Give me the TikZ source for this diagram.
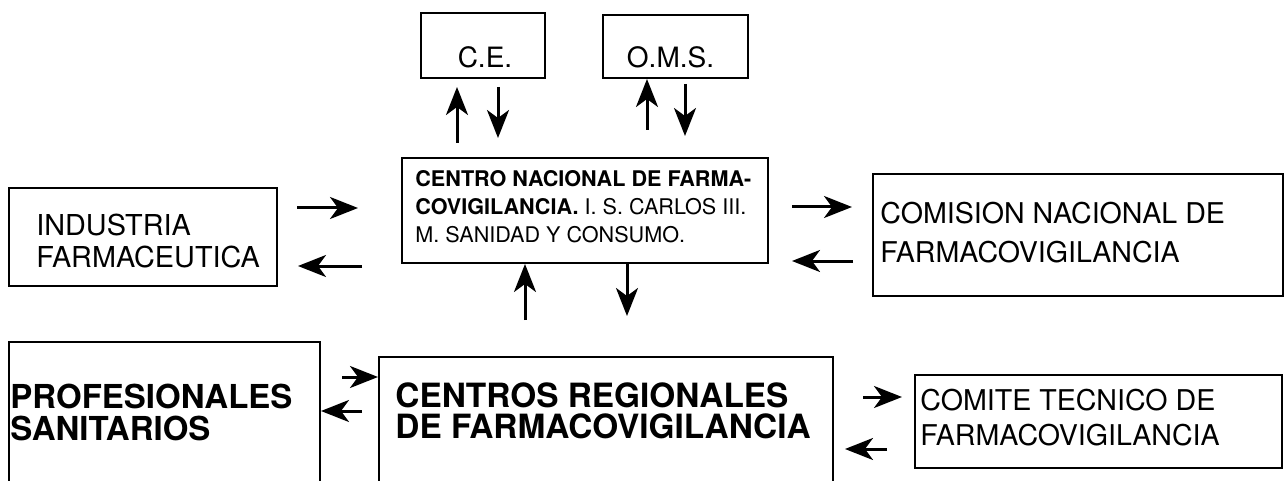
\documentclass[tikz,border=0pt]{standalone}
\usepackage{fontspec}
\setmainfont{TeX Gyre Heros}
\usetikzlibrary{arrows.meta}

\tikzset{
    box/.style={draw, line width=1pt, inner sep=0pt},
    txt/.style={inner sep=0pt, align=left},
    arr/.style={line width=1.5pt, -{Stealth[length=14pt, width=11pt, inset=4pt]}}
}

\begin{document}
\begin{tikzpicture}[x=0.5pt, y=-0.5pt]

        \clip (0, 0) rectangle (1286, 481);

        % boxes
        \node[box, minimum width=62pt, minimum height=32.5pt] (ce) at (483, 45.5) {};
        \node[box, minimum width=72.5pt, minimum height=31.5pt] (oms) at (675.5, 46.5) {};
        \node[box, minimum width=183pt, minimum height=52.5pt] (cnf) at (585, 210.5) {};
        \node[box, minimum width=134pt, minimum height=49pt] (ind) at (143, 237) {};
        \node[box, minimum width=205pt, minimum height=61pt] (cnfv) at (1078, 235) {};
        \node[box, minimum width=155.5pt, minimum height=89pt] (prof) at (164.5, 431) {};
        \node[box, minimum width=227pt, minimum height=81.5pt] (crf) at (606, 438.5) {};
        \node[box, minimum width=183.5pt, minimum height=46.5pt] (ctf) at (1098.5, 421.5) {};

        % texts
        \node[txt, anchor=base, font=\fontsize{14}{16}\selectfont] (cet) at (485, 68) {C.E.};
        \node[txt, anchor=base, font=\fontsize{14}{16}\selectfont] (omst) at (670.5, 68) {O.M.S.};
        \node[txt, anchor=west, font=\fontsize{10.8}{14}\selectfont] (cnft) at (415, 207)
            {\textbf{CENTRO NACIONAL DE FARMA-}\\\textbf{COVIGILANCIA.} I. S. CARLOS III.\\M. SANIDAD Y CONSUMO.};
        \node[txt, anchor=west, font=\fontsize{14.4}{16}\selectfont] (indt) at (36, 241) {INDUSTRIA\\FARMACEUTICA};
        \node[txt, anchor=west, font=\fontsize{14.3}{19.5}\selectfont] (cnfvt) at (880, 232.5) {COMISION NACIONAL DE\\FARMACOVIGILANCIA};
        \node[txt, anchor=west, font=\bfseries\fontsize{16.5}{16}\selectfont] (proft) at (10, 412) {PROFESIONALES\\SANITARIOS};
        \node[txt, anchor=west, font=\bfseries\fontsize{16.7}{15.5}\selectfont] (crft) at (395, 410.5) {CENTROS REGIONALES\\DE FARMACOVIGILANCIA};
        \node[txt, anchor=west, font=\fontsize{14.3}{17.5}\selectfont] (ctft) at (920, 417.5) {COMITE TECNICO DE\\FARMACOVIGILANCIA};

        % arrow ends
        \coordinate (ce1) at (457, 143);
        \coordinate (ce2) at (457, 87);
        \coordinate (ce3) at (498, 87);
        \coordinate (ce4) at (498, 138);
        \coordinate (oms1) at (647, 130);
        \coordinate (oms3) at (685, 84);
        \coordinate (oms4) at (685, 136);
        \coordinate (ind1) at (297, 208);
        \coordinate (ind2) at (358, 208);
        \coordinate (ind3) at (362, 266);
        \coordinate (ind4) at (298, 266);
        \coordinate (cnfv1) at (792, 207);
        \coordinate (cnfv2) at (852, 207);
        \coordinate (cnfv3) at (853, 261);
        \coordinate (cnfv4) at (792, 261);
        \coordinate (crf1) at (525, 320);
        \coordinate (crf4) at (627, 316);
        \coordinate (prof1) at (342, 377);
        \coordinate (prof3) at (362, 411);
        \coordinate (ctf1) at (863, 397);
        \coordinate (ctf2) at (902, 397);
        \coordinate (ctf3) at (887, 449);
        \coordinate (ctf4) at (845, 449);

        \draw[arr] (ce1) -- (ce2);
        \draw[arr] (ce3) -- (ce4);
        \draw[arr] (oms1) -- (oms1 |- oms.south);
        \draw[arr] (oms3) -- (oms4);
        \draw[arr] (ind1) -- (ind2);
        \draw[arr] (ind3) -- (ind4);
        \draw[arr] (cnfv1) -- (cnfv2);
        \draw[arr] (cnfv3) -- (cnfv4);
        \draw[arr] (crf1) -- (crf1 |- cnf.south);
        \draw[arr] (crf4 |- cnf.south) -- (crf4);
        \draw[arr] (prof1) -- (prof1 -| crf.west);
        \draw[arr] (prof3) -- (prof3 -| prof.east);
        \draw[arr] (ctf1) -- (ctf2);
        \draw[arr] (ctf3) -- (ctf4);

    \end{tikzpicture}
\end{document}
